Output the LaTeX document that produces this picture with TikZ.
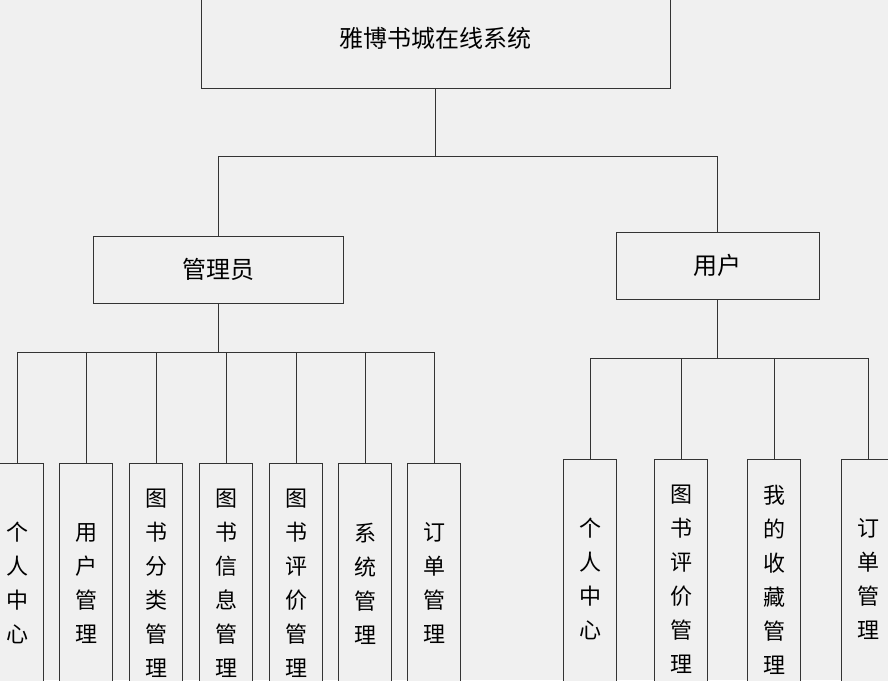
\documentclass[tikz,border=0pt]{standalone}
\usepackage{fontspec}
\newfontfamily\cjk{Noto Sans CJK SC}
\definecolor{boxgray}{HTML}{F0F0F0}
\definecolor{linegray}{HTML}{333333}
\usetikzlibrary{positioning}
\tikzset{
  box/.style={draw=linegray, fill=boxgray, line width=0.8pt, inner sep=0pt},
  vbox/.style={box, anchor=north, minimum width=53pt, minimum height=240pt, align=center, font=\cjk\fontsize{22}{34}\selectfont},
  link/.style={draw=linegray, line width=0.8pt}
}
\begin{document}
\begin{tikzpicture}[x=1pt, y=-1pt]
\useasboundingbox (0,0) rectangle (888,680);
\fill[boxgray] (0,0) rectangle (888,680);
\clip (0,0) rectangle (888,680);
% root and second level
\node[box, minimum width=469pt, minimum height=100pt, font=\cjk\fontsize{24}{28}\selectfont] (sys) at (435.5,38) {雅博书城在线系统};
\node[box, minimum width=250pt, minimum height=67pt, font=\cjk\fontsize{24}{28}\selectfont] (adm) at (218,269.5) {管理员};
\node[box, minimum width=203pt, minimum height=67pt, font=\cjk\fontsize{24}{28}\selectfont] (usr) at (717.5,265.5) {用户};
\coordinate (tb) at (435.5,156);
\draw[link] (sys.south) -- (tb);
\draw[link] (tb) -| (adm.north);
\draw[link] (tb) -| (usr.north);
% admin modules
\coordinate (ab) at (218,352);
\draw[link] (adm.south) -- (ab);
\foreach \x/\t [count=\i] in {17/个\\人\\中\\心, 86/用\\户\\管\\理, 156/图\\书\\分\\类\\管\\理, 226/图\\书\\信\\息\\管\\理, 296/图\\书\\评\\价\\管\\理, 365/系\\统\\管\\理, 434/订\\单\\管\\理}{
  \node[vbox] (a\i) at (\x,463) {\t};
  \draw[link] (ab) -| (a\i.north);
}
% user modules
\coordinate (ub) at (717.5,358);
\draw[link] (usr.south) -- (ub);
\foreach \x/\t [count=\i] in {590/个\\人\\中\\心, 681/图\\书\\评\\价\\管\\理, 774/我\\的\\收\\藏\\管\\理, 868/订\\单\\管\\理}{
  \node[vbox] (u\i) at (\x,459) {\t};
  \draw[link] (ub) -| (u\i.north);
}
\end{tikzpicture}
\end{document}
